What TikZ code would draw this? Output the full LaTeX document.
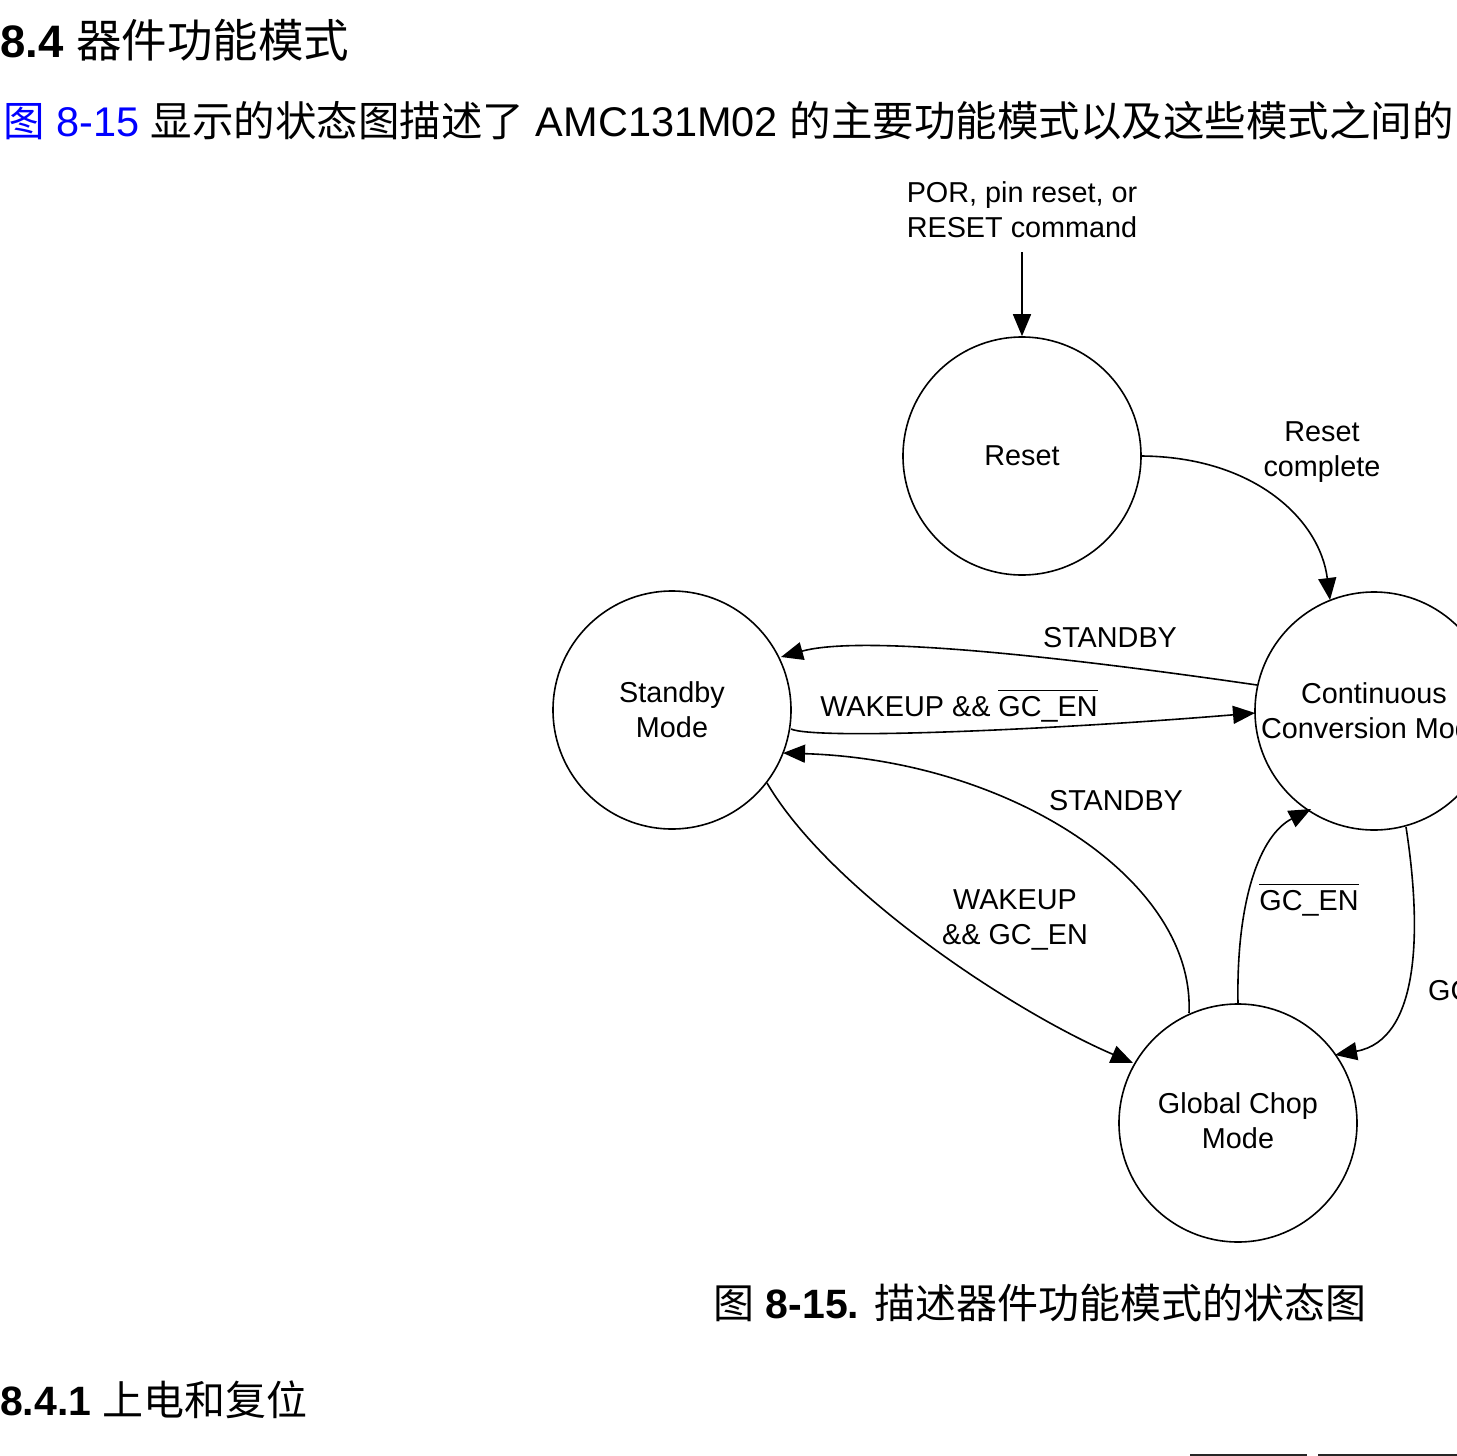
\documentclass[tikz,border=0pt]{standalone}
\usepackage{fontspec}
\setmainfont{Liberation Sans}
\newfontfamily\cjk{Noto Sans CJK SC}
\usetikzlibrary{arrows.meta}
\definecolor{linkblue}{RGB}{0,0,255}
\newcommand\barred[1]{$\overline{\hbox{\rule{0pt}{0.85em}#1}}$}
\begin{document}
\begin{tikzpicture}[x=1pt,y=-1pt,
  state/.style={draw,circle,line width=1.6pt,minimum size=238pt,inner sep=0pt},
  lbl/.style={font=\fontsize{28.8}{35}\selectfont,align=center,inner sep=0pt},
  conn/.style={line width=1.6pt,-{Triangle[length=22pt,width=18pt]}}]
\useasboundingbox (0,0) rectangle (1457,1456);
% headings and text
\node[anchor=base west,inner sep=0pt,font=\fontsize{45.5}{50}\selectfont] (h1) at (0,57) {\textbf{8.4} {\cjk 器件功能模式}};
\node[anchor=base west,inner sep=0pt,font=\fontsize{41.5}{46}\selectfont] (p1) at (3,136) {\textcolor{linkblue}{{\cjk 图} 8-15} {\cjk 显示的状态图描述了} AMC131M02 {\cjk 的主要功能模式以及这些模式之间的}};
\node[anchor=base,inner sep=0pt,font=\fontsize{41}{46}\selectfont] (cap) at (1040,1318) {{\cjk 图} \textbf{8-15.} {\cjk 描述器件功能模式的状态图}};
\node[anchor=base west,inner sep=0pt,font=\fontsize{41}{46}\selectfont] (h2) at (0,1415) {\textbf{8.4.1} {\cjk 上电和复位}};
% states
\node[state] (reset) at (1022,456) {};
\node[state] (standby) at (672,710) {};
\node[state] (cont) at (1374,711) {};
\node[state] (gc) at (1238,1123) {};
\node[lbl] at (1022,456) {Reset};
\node[lbl] at (672,710) {Standby\\Mode};
\node[lbl] at (1374,711) {Continuous\\Conversion Mode};
\node[lbl] at (1238,1121) {Global Chop\\Mode};
% entry
\node[lbl] (por) at (1022,210) {POR, pin reset, or\\RESET command};
\coordinate (entry) at (1022,252);
\draw[conn] (entry) -- (reset.north);
% transitions
\draw[conn] (reset.east) .. controls (1255,457) and (1320,520) .. (1330,600);
\node[lbl] at (1322,452) {Reset\\complete};
\draw[conn] (1257,685) .. controls (1050,655) and (860,635) .. (781,657);
\node[lbl,anchor=base] at (1110,647) {STANDBY};
\draw[conn] (791,729) .. controls (815,740) and (1050,730) .. (1255,713);
\node[lbl,anchor=base] at (959,716) {WAKEUP \&\& \barred{GC\_EN}};
\draw[conn] (1189,1013) .. controls (1195,880) and (1010,760) .. (783,753);
\node[lbl,anchor=base] at (1116,810) {STANDBY};
\draw[conn] (767,783) .. controls (830,890) and (1010,1010) .. (1133,1063);
\node[lbl] at (1015,920) {WAKEUP\\\&\& GC\_EN};
\draw[conn] (1238,1004) .. controls (1236,900) and (1260,835) .. (1311,809);
\node[lbl,anchor=base] at (1309,910) {\barred{GC\_EN}};
\draw[conn] (1406,827) .. controls (1422,930) and (1420,1040) .. (1335,1055);
\node[lbl,anchor=base west] at (1428,1000) {GC\_EN};
% bottom rules
\draw[line width=2pt,black!85] (1190,1455) -- (1307,1455);
\draw[line width=2pt,black!85] (1318,1455) -- (1457,1455);
\end{tikzpicture}
\end{document}
